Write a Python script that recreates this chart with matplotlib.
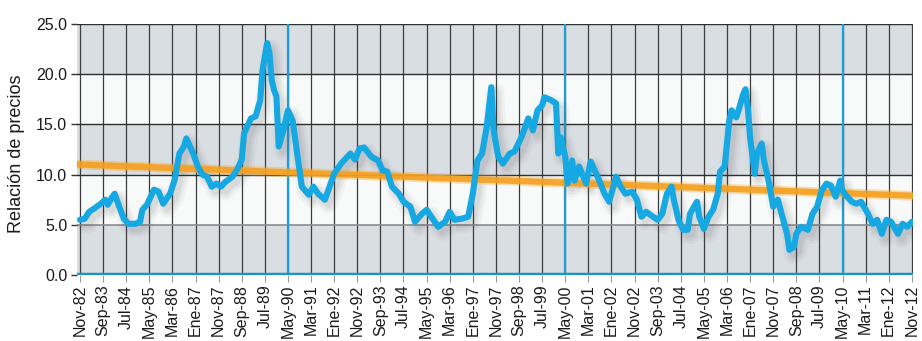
import matplotlib
matplotlib.use('Agg')
import matplotlib.pyplot as plt
from matplotlib import transforms

plt.rcParams['font.family'] = ['Liberation Sans', 'DejaVu Sans']

# months counted from Nov-82
months = [0, 2, 4, 6, 9, 11, 12, 14, 15, 17, 19, 21, 24, 26, 27, 29, 32, 34, 36, 39,
          41, 43, 45, 46, 49, 51, 53, 55, 57, 59, 61, 63, 66, 68, 70, 71, 74, 76, 78, 79,
          81, 82, 83, 84, 85, 86, 88, 90, 92, 94, 96, 99, 101, 103, 106, 108, 110, 113, 115, 117,
          119, 121, 123, 126, 129, 131, 133, 135, 138, 140, 143, 145, 148, 150, 152, 155, 158, 160, 162, 165,
          168, 170, 172, 174, 176, 178, 179, 181, 183, 186, 188, 191, 194, 196, 198, 200, 201, 204, 206, 207,
          208, 210, 211, 213, 214, 216, 219, 221, 224, 227, 229, 232, 234, 236, 239, 241, 243, 245, 248, 250,
          252, 254, 256, 257, 259, 261, 263, 264, 267, 268, 270, 272, 274, 276, 277, 279, 281, 282, 284, 285,
          287, 288, 289, 290, 292, 293, 295, 296, 298, 300, 302, 304, 306, 307, 309, 310, 312, 315, 317, 319,
          321, 323, 325, 327, 329, 330, 332, 334, 336, 338, 341, 343, 345, 347, 349, 351, 354, 356, 358, 360]
ratio = [5.5, 5.6, 6.3, 6.6, 7.1, 7.5, 7.0, 7.8, 8.1, 6.8, 5.6, 5.1, 5.1, 5.3, 6.5, 7.0, 8.5, 8.3, 7.1, 8.1,
         9.5, 12.1, 12.8, 13.6, 12.1, 10.8, 10.0, 9.8, 8.8, 9.1, 8.8, 9.3, 9.8, 10.5, 11.5, 14.1, 15.6, 15.8, 17.4, 20.4,
         23.1, 22.1, 19.4, 18.4, 17.8, 12.8, 14.4, 16.4, 15.4, 12.1, 8.8, 8.0, 8.8, 8.1, 7.5, 8.8, 10.1, 11.1, 11.6, 12.1,
         11.5, 12.6, 12.7, 11.8, 11.4, 10.4, 10.3, 8.8, 8.1, 7.3, 6.8, 5.3, 6.1, 6.5, 5.8, 4.8, 5.3, 6.3, 5.5, 5.6,
         5.8, 8.1, 11.4, 12.1, 14.7, 18.7, 14.4, 11.8, 11.1, 12.1, 12.3, 13.7, 15.6, 14.4, 16.4, 16.9, 17.7, 17.4, 17.1, 12.1,
         13.7, 11.8, 9.1, 11.4, 9.4, 10.8, 9.1, 11.3, 9.8, 8.1, 7.3, 9.8, 8.8, 8.1, 8.3, 7.5, 5.8, 6.3, 5.8, 5.5,
         6.1, 8.1, 8.8, 7.5, 5.5, 4.5, 4.5, 6.1, 7.3, 5.8, 4.6, 5.8, 6.5, 8.1, 10.3, 10.8, 15.4, 16.4, 15.7, 16.4,
         18.0, 18.5, 16.7, 13.7, 10.1, 12.1, 13.1, 11.4, 9.4, 6.8, 7.5, 5.8, 4.1, 2.5, 2.8, 4.1, 4.8, 4.5, 6.1, 6.8,
         8.4, 9.1, 8.9, 7.8, 9.4, 8.4, 7.8, 7.3, 7.1, 7.3, 6.1, 5.1, 5.5, 4.1, 5.5, 5.3, 4.1, 5.1, 4.8, 5.3]

# linear trend, value at first and last month
trend_months = [0, 360]
trend_values = [11.0, 7.9]

tick_months = list(range(0, 361, 10))
tick_labels = ['Nov-82', 'Sep-83', 'Jul-84', 'May-85', 'Mar-86', 'Ene-87', 'Nov-87', 'Sep-88',
               'Jul-89', 'May-90', 'Mar-91', 'Ene-92', 'Nov-92', 'Sep-93', 'Jul-94', 'May-95',
               'Mar-96', 'Ene-97', 'Nov-97', 'Sep-98', 'Jul-99', 'May-00', 'Mar-01', 'Ene-02',
               'Nov-02', 'Sep-03', 'Jul-04', 'May-05', 'Mar-06', 'Ene-07', 'Nov-07', 'Sep-08',
               'Jul-09', 'May-10', 'Mar-11', 'Ene-12', 'Nov-12']
decade_months = [90, 210, 330]

fig = plt.figure(figsize=(9.22, 3.41), dpi=100)
ax = fig.add_axes([0.0835, 0.1935, 0.907, 0.7361])
ax.set_xlim(-1.3, 360.6)
ax.set_ylim(0, 25)

# alternating background bands
for lo in range(0, 25, 5):
    col = '#d9dee3' if (lo // 5) % 2 == 0 else '#f8f9f9'
    ax.axhspan(lo, lo + 5, color=col, lw=0, zorder=0)

for m in tick_months:
    ax.axvline(m, color='#3c3c3c', lw=0.9, zorder=1)
for yv in [10, 15, 20, 25]:
    ax.axhline(yv, color='#2e2e2e', lw=1.0, zorder=1)
ax.axhline(5, color='#8c8c8c', lw=1.2, zorder=1)
for m in decade_months:
    ax.axvline(m, color='#1c9fd8', lw=1.6, zorder=2)
ax.axhline(0, color='#1795c9', lw=3.2, zorder=6)

# soft shadow beneath the series
shadow_tr = transforms.offset_copy(ax.transData, fig=fig, x=4, y=-5, units='dots')
for lw, a in [(13, 0.04), (9, 0.06), (5, 0.08)]:
    ax.plot(months, ratio, color='#444444', lw=lw, alpha=a, transform=shadow_tr,
            solid_joinstyle='round', solid_capstyle='round', zorder=3)

ax.plot(trend_months, trend_values, color='#f5a623', lw=7, alpha=0.35, zorder=4)
ax.plot(trend_months, trend_values, color='#f4a020', lw=4.5, alpha=0.9, zorder=4)

ax.plot(months, ratio, color='#16a8e2', lw=4.4, solid_joinstyle='round',
        solid_capstyle='round', zorder=5)

ax.set_xticks(tick_months)
ax.set_xticklabels(tick_labels, rotation=90, fontsize=11.5, color='#1a1a1a')
ax.set_yticks([0, 5, 10, 15, 20, 25])
ax.set_yticklabels([f'{v:.1f}' for v in [0, 5, 10, 15, 20, 25]], fontsize=11.5, color='#1a1a1a')
ax.tick_params(axis='x', length=5, width=0.8, color='#9a9a9a', pad=2)
ax.tick_params(axis='y', length=4, width=1.0, color='#333333', pad=3)
ax.set_ylabel('Relación de precios', fontsize=13, color='#1a1a1a')
ax.yaxis.set_label_coords(-0.062, 0.485)
for s in ax.spines.values():
    s.set_visible(False)

fig.savefig('out.png', dpi=100)
plt.close(fig)
